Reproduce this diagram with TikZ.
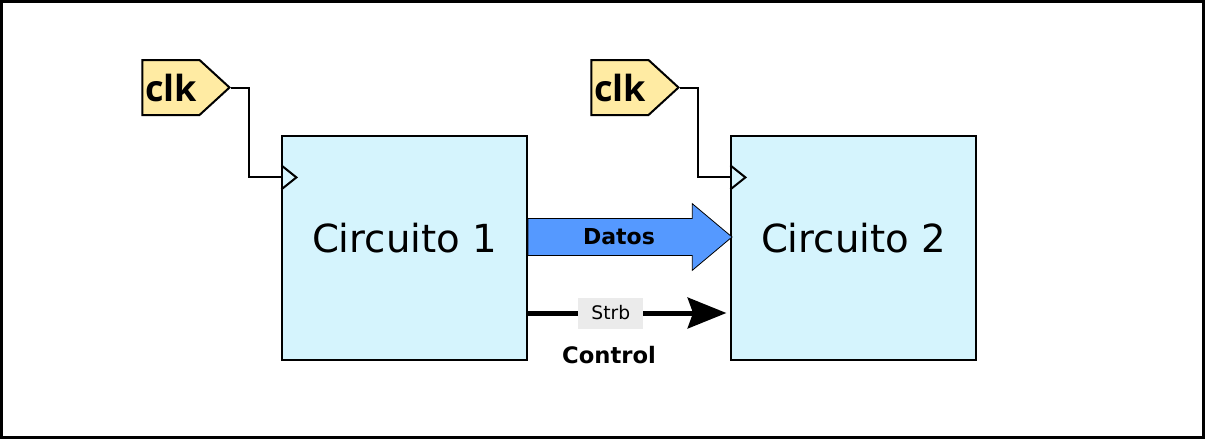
\documentclass[tikz,border=0pt]{standalone}
\usepackage{fontspec}
\setmainfont{DejaVu Sans}
\newfontfamily\clkfont{Open Sans}
\usepackage{xcolor}
\usetikzlibrary{shapes.symbols, shapes.arrows, arrows.meta, positioning, calc}
\definecolor{circfill}{RGB}{213, 244, 253}
\definecolor{clkfill}{RGB}{255, 235, 163}
\definecolor{datafill}{RGB}{85, 153, 255}
\definecolor{strbfill}{RGB}{235, 235, 235}
\tikzstyle{circuit} = [rectangle, draw=black, fill=circfill, minimum width=183.75pt, minimum height=168pt, text depth=16pt, line width=0.9pt, font=\fontsize{29}{34}\selectfont]
\tikzstyle{clktag} = [signal, signal to=east, signal pointer angle=85, draw=black, fill=clkfill, minimum width=65.25pt, minimum height=41.25pt, inner xsep=2pt, inner ysep=0pt, line width=1.5pt, font=\clkfont\bfseries\fontsize{27}{31}\selectfont]
\tikzstyle{wire} = [line width=1.5pt]
\tikzstyle{datos} = [single arrow, draw=black, fill=datafill, single arrow head extend=5.2pt, single arrow tip angle=80, minimum height=153pt, minimum width=50pt, inner sep=0pt, line width=0.6pt, font=\bfseries\fontsize{16.5}{20}\selectfont]
\tikzstyle{ctrl} = [-{Stealth[length=29pt, width=23pt, inset=4pt]}, line width=3.75pt]
\tikzstyle{strb} = [fill=strbfill, minimum width=48.75pt, minimum height=23.25pt, inner sep=0pt, font=\fontsize{14}{17}\selectfont]

\begin{document}
\begin{tikzpicture}[x=0.75pt, y=-0.75pt]
    \useasboundingbox (0,0) rectangle (1205,439);
    \draw[line width=2.25pt] (1.5,1.5) rectangle (1203.5,437.5);

    % Circuits
    \node[circuit] (circ1) at (404.5, 248) {Circuito 1};
    \node[circuit] (circ2) at (853.5, 248) {Circuito 2};

    % Clocks
    \node[clktag, anchor=east] (clk1) at (231, 87.5) {clk};
    \node[clktag, anchor=east] (clk2) at (680, 87.5) {clk};
    \coordinate (ck1) at ($(circ1.north west)+(0,42)$);
    \coordinate (ck2) at ($(circ2.north west)+(0,42)$);
    \draw[wire] (clk1.east) -- ++(18,0) |- (ck1);
    \draw[wire] (clk2.east) -- ++(18,0) |- (ck2);
    \draw[wire] ($(ck1)+(0,-12)$) -- ($(ck1)+(15,0)$) -- ($(ck1)+(0,12)$);
    \draw[wire] ($(ck2)+(0,-12)$) -- ($(ck2)+(15,0)$) -- ($(ck2)+(0,12)$);

    % Data bus
    \node[datos, anchor=tail] (datos) at ($(circ1.east)+(0,-11)$) {Datos};

    % Control line
    \coordinate (cout) at ($(circ1.east)+(0,65)$);
    \coordinate (cin) at ($(circ2.west)+(0,65)$);
    \draw[ctrl, shorten >=3pt] (cout) -- (cin) node[strb, pos=0.41] (strb) {Strb};
    \node[font=\bfseries\fontsize{17}{20}\selectfont] (control) at (609, 355) {Control};
\end{tikzpicture}
\end{document}
